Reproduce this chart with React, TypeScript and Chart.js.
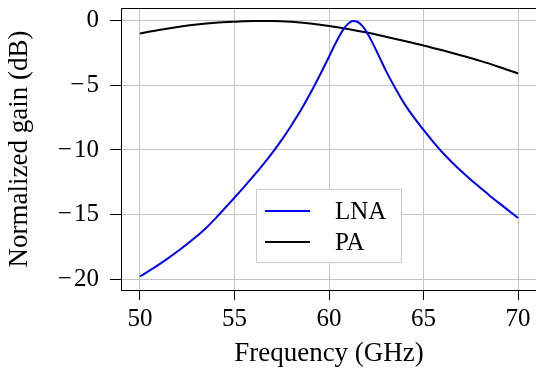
import React, { useEffect, useRef } from "react";
import { Chart, registerables } from "chart.js";

Chart.register(...registerables);

const seriesNames = ["LNA", "PA"];
const seriesColors = ["#0000ff", "#000000"];

const freqLNA = [50, 50.5, 51, 51.5, 52, 52.5, 53, 53.5, 54, 54.5, 55, 55.5, 56, 56.5, 57, 57.5, 58, 58.5, 59, 59.5, 60, 60.25, 60.5, 60.75, 61, 61.25, 61.5, 61.75, 62, 62.25, 62.5, 62.75, 63, 63.5, 64, 64.5, 65, 65.5, 66, 66.5, 67, 67.5, 68, 68.5, 69, 69.5, 70];
const gainLNA = [-19.8, -19.35, -18.88, -18.38, -17.85, -17.29, -16.69, -16.05, -15.3, -14.5, -13.7, -12.88, -12.03, -11.15, -10.22, -9.22, -8.12, -6.95, -5.65, -4.25, -2.78, -2.02, -1.3, -0.68, -0.23, -0.014, -0.063, -0.37, -0.89, -1.55, -2.29, -3.06, -3.83, -5.2, -6.45, -7.5, -8.45, -9.35, -10.2, -10.95, -11.65, -12.3, -12.92, -13.54, -14.12, -14.7, -15.27];

const freqPA = [50, 51, 52, 53, 54, 55, 56, 57, 58, 59, 60, 61, 62, 63, 64, 65, 66, 67, 68, 69, 70];
const gainPA = [-0.97, -0.7, -0.47, -0.28, -0.14, -0.06, -0.005, -0.01, -0.07, -0.2, -0.39, -0.62, -0.9, -1.22, -1.55, -1.9, -2.28, -2.68, -3.1, -3.57, -4.07];

const xTicks = [50, 55, 60, 65, 70];
const yTicks = [-20, -15, -10, -5, 0];
const xTitle = "Frequency (GHz)";
const yTitle = "Normalized gain (dB)";

const FONT = "'Liberation Serif', 'Times New Roman', serif";

function fmt(v: number): string {
  return v < 0 ? "\u2212\u200A" + Math.abs(v) : String(v);
}

const legendPlugin = {
  id: "innerLegend",
  afterDatasetsDraw(chart: any) {
    const { ctx, chartArea } = chart;
    const x0 = chartArea.left + 135;
    const y0 = chartArea.top + 181;
    const w = 146;
    const h = 74;
    ctx.save();
    ctx.fillStyle = "#ffffff";
    ctx.fillRect(x0, y0, w, h);
    ctx.strokeStyle = "#cccccc";
    ctx.lineWidth = 1;
    ctx.strokeRect(x0 + 0.5, y0 + 0.5, w - 1, h - 1);
    chart.data.datasets.forEach((ds: any, i: number) => {
      const yy = y0 + 22 + i * 31;
      ctx.strokeStyle = ds.borderColor;
      ctx.lineWidth = 2;
      ctx.beginPath();
      ctx.moveTo(x0 + 9, yy);
      ctx.lineTo(x0 + 54, yy);
      ctx.stroke();
      ctx.fillStyle = "#000000";
      ctx.font = "25px " + FONT;
      ctx.textBaseline = "middle";
      ctx.textAlign = "left";
      ctx.fillText(ds.label, x0 + 79, yy + 1);
    });
    ctx.restore();
  },
};

const framePlugin = {
  id: "frame",
  afterDraw(chart: any) {
    const { ctx, chartArea } = chart;
    ctx.save();
    ctx.strokeStyle = "#000000";
    ctx.lineWidth = 1;
    ctx.beginPath();
    ctx.moveTo(chartArea.left, chartArea.top + 0.5);
    ctx.lineTo(chartArea.right, chartArea.top + 0.5);
    ctx.stroke();
    ctx.restore();
  },
};

export default function App() {
  const ref = useRef<HTMLCanvasElement | null>(null);
  useEffect(() => {
    if (!ref.current) return;
    const chart = new Chart(ref.current, {
      type: "line",
      data: {
        datasets: [
          {
            label: seriesNames[0],
            data: freqLNA.map((f, i) => ({ x: f, y: gainLNA[i] })),
            borderColor: seriesColors[0],
            backgroundColor: seriesColors[0],
            borderWidth: 2,
            pointRadius: 0,
            cubicInterpolationMode: "monotone",
          },
          {
            label: seriesNames[1],
            data: freqPA.map((f, i) => ({ x: f, y: gainPA[i] })),
            borderColor: seriesColors[1],
            backgroundColor: seriesColors[1],
            borderWidth: 2,
            pointRadius: 0,
            cubicInterpolationMode: "monotone",
          },
        ],
      },
      options: {
        animation: false,
        responsive: false,
        devicePixelRatio: 1,
        layout: { padding: { top: 8, right: 23, left: 0, bottom: 0 } },
        plugins: { legend: { display: false }, tooltip: { enabled: false } },
        scales: {
          x: {
            type: "linear",
            min: 49,
            max: 71,
            afterBuildTicks: (s: any) => {
              s.ticks = xTicks.map((v) => ({ value: v }));
            },
            afterFit: (s: any) => {
              s.height = 84;
              s.paddingLeft = 0;
              s.paddingRight = 0;
            },
            ticks: {
              font: { family: FONT, size: 25 },
              color: "#000000",
              padding: 4,
              maxRotation: 0,
              callback: (v: any) => fmt(Number(v)),
            },
            grid: { color: "#c4c4c4", tickColor: "#000000", tickLength: 10, lineWidth: 1 },
            border: { color: "#000000", width: 1 },
            title: {
              display: true,
              text: xTitle,
              font: { family: FONT, size: 27 },
              color: "#000000",
              padding: { top: 0, bottom: 4 },
            },
          },
          y: {
            type: "linear",
            min: -20.85,
            max: 1.0,
            afterBuildTicks: (s: any) => {
              s.ticks = yTicks.map((v) => ({ value: v }));
            },
            afterFit: (s: any) => {
              s.width = 121;
              s.paddingTop = 0;
              s.paddingBottom = 0;
            },
            ticks: {
              font: { family: FONT, size: 25 },
              color: "#000000",
              padding: 11,
              callback: (v: any) => fmt(Number(v)),
            },
            grid: { color: "#c4c4c4", tickColor: "#000000", tickLength: 11, lineWidth: 1 },
            border: { color: "#000000", width: 1 },
            title: {
              display: true,
              text: yTitle,
              font: { family: FONT, size: 27 },
              color: "#000000",
              padding: { top: 4, bottom: 0 },
            },
          },
        },
      },
      plugins: [legendPlugin, framePlugin],
    } as any);
    return () => chart.destroy();
  }, []);
  return (
    <div style={{ position: "fixed", left: 0, top: 0, width: 536, height: 374, overflow: "hidden", background: "#ffffff" }}>
      <canvas ref={ref} width={560} height={374} style={{ display: "block" }} />
    </div>
  );
}
